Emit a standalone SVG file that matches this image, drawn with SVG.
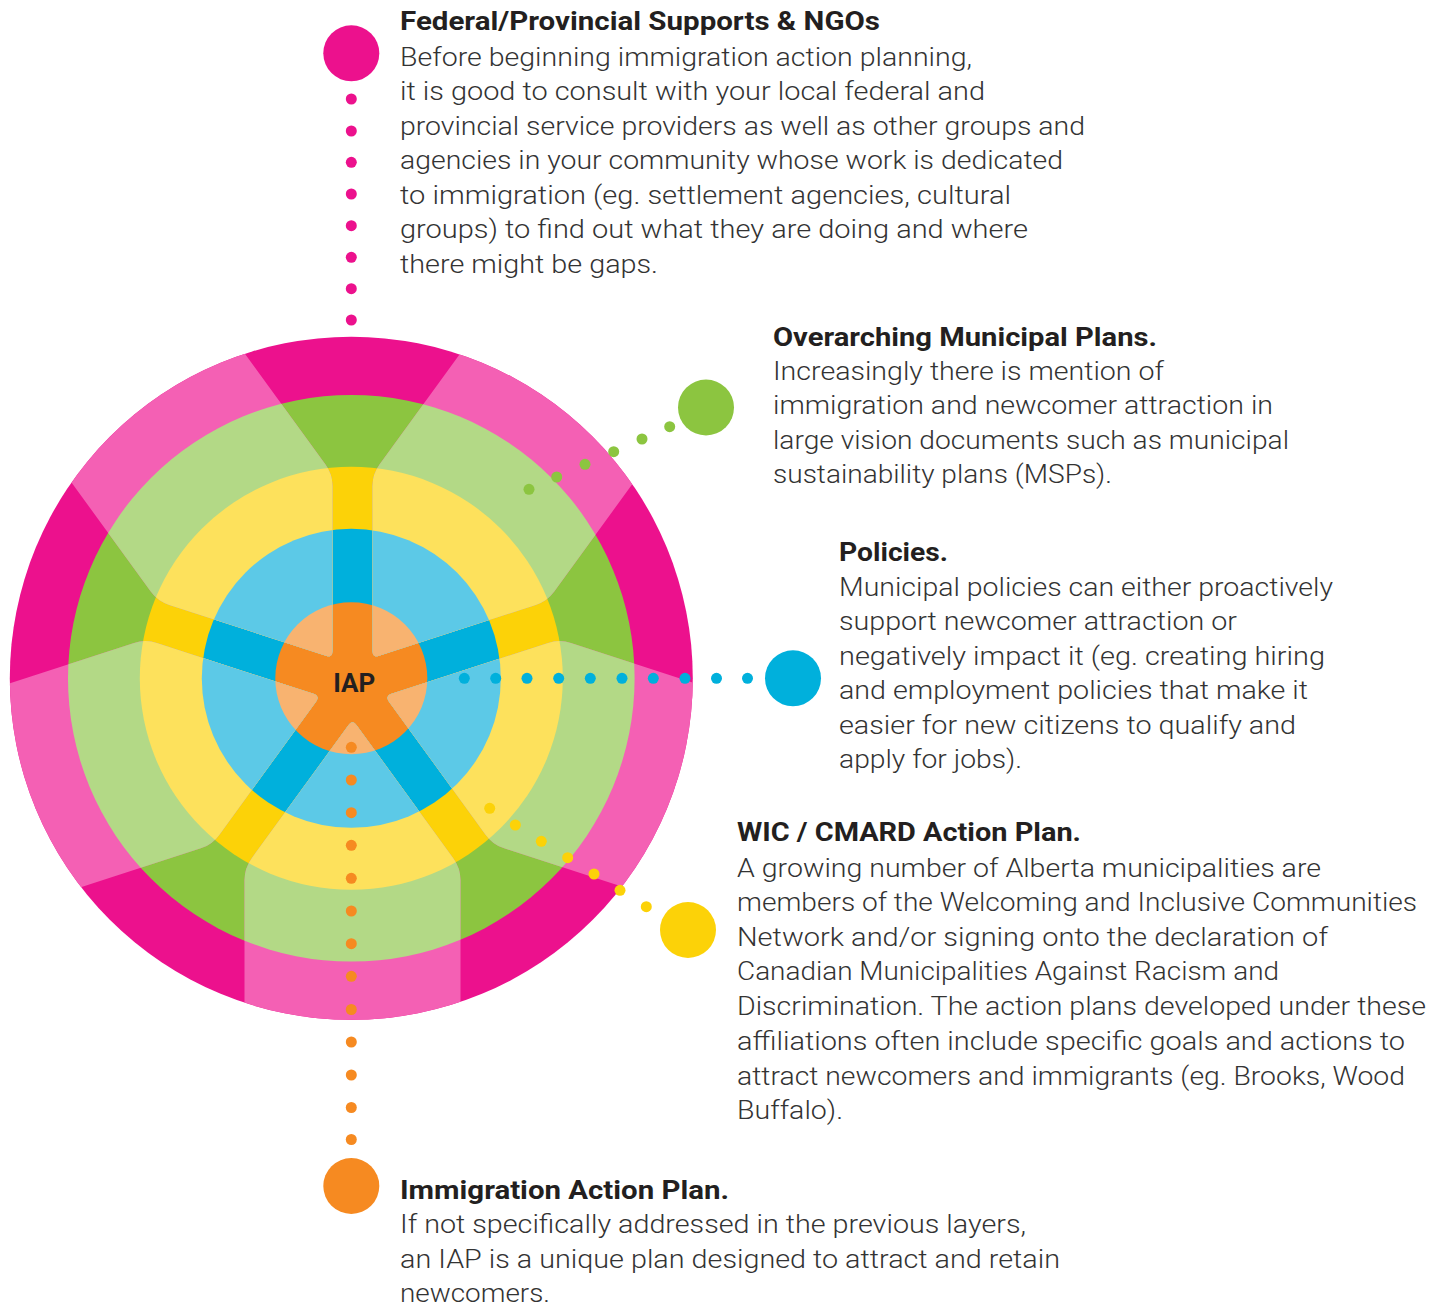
<svg xmlns="http://www.w3.org/2000/svg" xmlns:xlink="http://www.w3.org/1999/xlink" width="1447" height="1306" viewBox="0 0 1447 1306">
  <style>
    .title { font-family: Roboto, "Liberation Sans", sans-serif; font-weight: 700; font-size: 25px; fill: #231F20; }
    .body { font-family: Roboto, "Liberation Sans", sans-serif; font-weight: 300; font-size: 25px; fill: #333333; }
    .tall { font-size: 26px; }
    .hub { font-family: Roboto, "Liberation Sans", sans-serif; font-weight: 700; font-size: 26px; fill: #231F20; }
    .pink { fill: #EC118D; }
    .green { fill: #8CC540; }
    .blue { fill: #00B0DC; }
    .yellow { fill: #FCD208; }
    .orange { fill: #F68A21; }
  </style>
  <defs>
    <!-- one light arm of the star, pointing up from the star centre -->
    <path id="arm" d="M -4.1,-39.7 Q 0,-34 4.1,-39.7 L 100.9,-172.9 Q 108,-182.6 108,-194.6 L 108,-420 L -108,-420 L -108,-194.6 Q -108,-182.6 -100.9,-172.9 Z"/>
    <clipPath id="arms" clipPathUnits="userSpaceOnUse">
      <use xlink:href="#arm" href="#arm" transform="translate(352.5 685.5) rotate(36)"/>
      <use xlink:href="#arm" href="#arm" transform="translate(352.5 685.5) rotate(108)"/>
      <use xlink:href="#arm" href="#arm" transform="translate(352.5 685.5) rotate(180)"/>
      <use xlink:href="#arm" href="#arm" transform="translate(352.5 685.5) rotate(252)"/>
      <use xlink:href="#arm" href="#arm" transform="translate(352.5 685.5) rotate(324)"/>
    </clipPath>
  </defs>

  <!-- layered wheel -->
  <g id="wheel">
    <circle cx="351.3" cy="678.3" r="341.5" fill="#EC118D"/>
    <circle cx="351.3" cy="678.3" r="283.3" fill="#8CC540"/>
    <circle cx="351.3" cy="678.3" r="211.5" fill="#FCD208"/>
    <circle cx="351.3" cy="678.3" r="149.5" fill="#00B0DC"/>
    <circle cx="351.3" cy="678.3" r="76" fill="#F68A21"/>
    <g clip-path="url(#arms)">
      <circle cx="351.3" cy="678.3" r="341.5" fill="#F460B4"/>
      <circle cx="351.3" cy="678.3" r="283.3" fill="#B3D986"/>
      <circle cx="351.3" cy="678.3" r="211.5" fill="#FDE15C"/>
      <circle cx="351.3" cy="678.3" r="149.5" fill="#5CC9E7"/>
      <circle cx="351.3" cy="678.3" r="76" fill="#F8B370"/>
    </g>
  </g>

  <!-- dotted leaders from the wheel to each label -->
  <g id="connectors">
    <g class="pink">
      <circle cx="351.3" cy="99" r="5.5"/><circle cx="351.3" cy="131" r="5.5"/>
      <circle cx="351.3" cy="162.3" r="5.5"/><circle cx="351.3" cy="194" r="5.5"/>
      <circle cx="351.3" cy="225.7" r="5.5"/><circle cx="351.3" cy="257.3" r="5.5"/>
      <circle cx="351.3" cy="288.7" r="5.5"/><circle cx="351.3" cy="320" r="5.5"/>
    </g>
    <g class="green">
      <circle cx="669.7" cy="426.7" r="5.5"/><circle cx="642" cy="439" r="5.5"/>
      <circle cx="613.7" cy="451.7" r="5.5"/><circle cx="585" cy="464.3" r="5.5"/>
      <circle cx="556.7" cy="477" r="5.5"/><circle cx="529" cy="489.3" r="5.5"/>
    </g>
    <g class="blue">
      <circle cx="464.3" cy="678.3" r="5.5"/><circle cx="495.7" cy="678.3" r="5.5"/>
      <circle cx="527" cy="678.3" r="5.5"/><circle cx="558.7" cy="678.3" r="5.5"/>
      <circle cx="590.3" cy="678.3" r="5.5"/><circle cx="622" cy="678.3" r="5.5"/>
      <circle cx="653.3" cy="678.3" r="5.5"/><circle cx="685" cy="678.3" r="5.5"/>
      <circle cx="716.5" cy="678.3" r="5.5"/><circle cx="747.5" cy="678.3" r="5.5"/>
    </g>
    <g class="yellow">
      <circle cx="489.7" cy="808.3" r="5.5"/><circle cx="515.3" cy="825" r="5.5"/>
      <circle cx="541.3" cy="841.3" r="5.5"/><circle cx="567.7" cy="857.7" r="5.5"/>
      <circle cx="594" cy="874" r="5.5"/><circle cx="620" cy="890.3" r="5.5"/>
      <circle cx="646.3" cy="906.7" r="5.5"/>
    </g>
    <g class="orange">
      <circle cx="351.3" cy="747.3" r="5.5"/><circle cx="351.3" cy="780" r="5.5"/>
      <circle cx="351.3" cy="812.7" r="5.5"/><circle cx="351.3" cy="845.3" r="5.5"/>
      <circle cx="351.3" cy="878.3" r="5.5"/><circle cx="351.3" cy="911" r="5.5"/>
      <circle cx="351.3" cy="943.7" r="5.5"/><circle cx="351.3" cy="976.3" r="5.5"/>
      <circle cx="351.3" cy="1009.5" r="5.5"/><circle cx="351.3" cy="1042" r="5.5"/>
      <circle cx="351.3" cy="1075" r="5.5"/><circle cx="351.3" cy="1107.5" r="5.5"/>
      <circle cx="351.3" cy="1139.5" r="5.5"/>
    </g>
  </g>

  <g id="node-iap-hub">
    <text class="hub" x="354.3" y="692" text-anchor="middle">IAP</text>
  </g>

  <g id="node-federal">
    <circle class="pink" cx="351.3" cy="53.3" r="28"/>
    <text class="title" x="400" y="29.5" textLength="480" lengthAdjust="spacingAndGlyphs">Federal/Provincial Supports &amp; NGOs</text>
    <text class="body" x="400" y="65.5" textLength="572" lengthAdjust="spacingAndGlyphs">Before beginning immigration action planning,</text>
    <text class="body" x="400" y="100" textLength="585" lengthAdjust="spacingAndGlyphs">it is good to consult with your local federal and</text>
    <text class="body" x="400" y="134.5" textLength="685" lengthAdjust="spacingAndGlyphs">provincial service providers as well as other groups and</text>
    <text class="body" x="400" y="169" textLength="663" lengthAdjust="spacingAndGlyphs">agencies in your community whose work is dedicated</text>
    <text class="body" x="400" y="203.5" textLength="611" lengthAdjust="spacingAndGlyphs">to immigration (eg. settlement agencies, cultural</text>
    <text class="body" x="400" y="238" textLength="628" lengthAdjust="spacingAndGlyphs">groups) to find out what they are doing and where</text>
    <text class="body" x="400" y="272.5" textLength="258" lengthAdjust="spacingAndGlyphs">there might be gaps.</text>
  </g>

  <g id="node-municipal-plans">
    <circle class="green" cx="706" cy="407.5" r="28"/>
    <text class="title" x="773" y="345.5" textLength="384" lengthAdjust="spacingAndGlyphs">Overarching Municipal Plans.</text>
    <text class="body" x="773" y="379.5" textLength="391" lengthAdjust="spacingAndGlyphs">Increasingly there is mention of</text>
    <text class="body" x="773" y="414" textLength="500" lengthAdjust="spacingAndGlyphs">immigration and newcomer attraction in</text>
    <text class="body" x="773" y="448.5" textLength="516" lengthAdjust="spacingAndGlyphs">large vision documents such as municipal</text>
    <text class="body" x="773" y="483" textLength="339" lengthAdjust="spacingAndGlyphs">sustainability plans (MSPs).</text>
  </g>

  <g id="node-policies">
    <circle class="blue" cx="793" cy="678.3" r="28"/>
    <text class="title" x="839" y="560.5" textLength="109" lengthAdjust="spacingAndGlyphs">Policies.</text>
    <text class="body" x="839" y="595.5" textLength="494" lengthAdjust="spacingAndGlyphs">Municipal policies can either proactively</text>
    <text class="body" x="839" y="630" textLength="398" lengthAdjust="spacingAndGlyphs">support newcomer attraction or</text>
    <text class="body" x="839" y="664.5" textLength="486" lengthAdjust="spacingAndGlyphs">negatively impact it (eg. creating hiring</text>
    <text class="body" x="839" y="699" textLength="469" lengthAdjust="spacingAndGlyphs">and employment policies that make it</text>
    <text class="body" x="839" y="733.5" textLength="457" lengthAdjust="spacingAndGlyphs">easier for new citizens to qualify and</text>
    <text class="body" x="839" y="768" textLength="183" lengthAdjust="spacingAndGlyphs">apply for jobs).</text>
  </g>

  <g id="node-wic-cmard">
    <circle class="yellow" cx="688" cy="930" r="28"/>
    <text class="title" x="737" y="841" textLength="344" lengthAdjust="spacingAndGlyphs">WIC / CMARD Action Plan.</text>
    <text class="body tall" x="737" y="876.5" textLength="584" lengthAdjust="spacingAndGlyphs">A growing number of Alberta municipalities are</text>
    <text class="body tall" x="737" y="911" textLength="680" lengthAdjust="spacingAndGlyphs">members of the Welcoming and Inclusive Communities</text>
    <text class="body tall" x="737" y="945.5" textLength="591" lengthAdjust="spacingAndGlyphs">Network and/or signing onto the declaration of</text>
    <text class="body tall" x="737" y="980" textLength="542" lengthAdjust="spacingAndGlyphs">Canadian Municipalities Against Racism and</text>
    <text class="body tall" x="737" y="1015" textLength="689" lengthAdjust="spacingAndGlyphs">Discrimination. The action plans developed under these</text>
    <text class="body tall" x="737" y="1049.5" textLength="668" lengthAdjust="spacingAndGlyphs">affiliations often include specific goals and actions to</text>
    <text class="body tall" x="737" y="1084.5" textLength="668" lengthAdjust="spacingAndGlyphs">attract newcomers and immigrants (eg. Brooks, Wood</text>
    <text class="body tall" x="737" y="1119" textLength="106" lengthAdjust="spacingAndGlyphs">Buffalo).</text>
  </g>

  <g id="node-iap">
    <circle class="orange" cx="351.3" cy="1186" r="28"/>
    <text class="title" x="400" y="1198.5" textLength="329" lengthAdjust="spacingAndGlyphs">Immigration Action Plan.</text>
    <text class="body tall" x="400" y="1233" textLength="626" lengthAdjust="spacingAndGlyphs">If not specifically addressed in the previous layers,</text>
    <text class="body tall" x="400" y="1267.5" textLength="660" lengthAdjust="spacingAndGlyphs">an IAP is a unique plan designed to attract and retain</text>
    <text class="body tall" x="400" y="1302" textLength="150" lengthAdjust="spacingAndGlyphs">newcomers.</text>
  </g>
</svg>
